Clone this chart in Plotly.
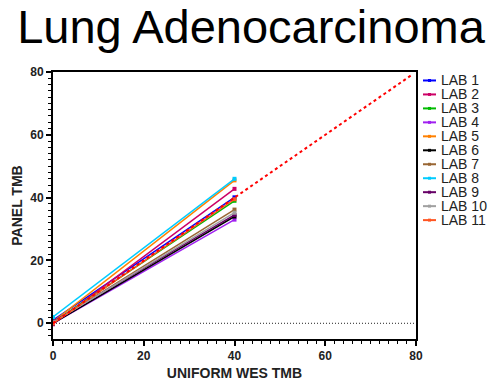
import plotly.graph_objects as go

labs = ["LAB 1", "LAB 2", "LAB 3", "LAB 4", "LAB 5", "LAB 6", "LAB 7", "LAB 8", "LAB 9", "LAB 10", "LAB 11"]
colors = ["#0000FF", "#CC0066", "#00BB00", "#A020F0", "#FF8000", "#000000", "#996633", "#00CCFF", "#660066", "#A0A0A0", "#FF5522"]
x_wes = [0, 40]
y_at0 = [1.0, -0.3, 0.3, 0.0, 0.5, 0.0, 0.2, 2.0, 0.5, 0.3, 0.0]
y_at40 = [40.1, 42.8, 39.0, 33.0, 45.5, 34.0, 36.2, 46.0, 34.5, 35.2, 39.5]
identity_x = [0, 79]
identity_y = [0, 79]

W, H = 493, 391
L, R, T, B = 53, 77, 72, 45
FONT = "Liberation Sans, Arial, sans-serif"

fig = go.Figure()
# dotted zero line
fig.add_trace(go.Scatter(x=[0, 80], y=[0, 0], mode="lines",
                         line=dict(color="#222222", width=1, dash="1px,2px"),
                         showlegend=False, hoverinfo="skip"))
for lab, c, a, b in zip(labs, colors, y_at0, y_at40):
    fig.add_trace(go.Scatter(x=x_wes, y=[a, b], mode="lines+markers", name=lab,
                             line=dict(color=c, width=1.5),
                             marker=dict(symbol="square", size=4, color=c),
                             showlegend=False))
fig.add_trace(go.Scatter(x=identity_x, y=identity_y, mode="lines",
                         line=dict(color="#FF0000", width=2, dash="3px,3px"),
                         showlegend=False))

pw = W - L - R
ph = H - T - B

def px_to_paper_x(px):
    return (px - L) / pw

def px_to_paper_y(py):
    return (H - B - py) / ph

shapes = []
annotations = []
for i, (lab, c) in enumerate(zip(labs, colors)):
    py = 80.7 + 14.33 * i
    yp = px_to_paper_y(py)
    shapes.append(dict(type="line", xref="paper", yref="paper",
                       x0=px_to_paper_x(423), x1=px_to_paper_x(436), y0=yp, y1=yp,
                       line=dict(color=c, width=2)))
    shapes.append(dict(type="rect", xref="paper", yref="paper",
                       x0=px_to_paper_x(428), x1=px_to_paper_x(431),
                       y0=px_to_paper_y(py + 1.5), y1=px_to_paper_y(py - 1.5),
                       line=dict(width=0), fillcolor=c))
    annotations.append(dict(text=lab, xref="paper", yref="paper",
                            x=px_to_paper_x(439), y=yp, xanchor="left", yanchor="middle",
                            showarrow=False, font=dict(family=FONT, size=14, color="#222222")))

axis_common = dict(showline=True, linecolor="black", linewidth=2, mirror=True,
                   ticks="outside", ticklen=5, tickwidth=1.5, tickcolor="black",
                   showgrid=False, zeroline=False,
                   tickfont=dict(family=FONT, size=12, color="#222222", weight="bold"),
                   minor=dict(dtick=2, ticks="outside", ticklen=3, tickwidth=1, tickcolor="black"))

fig.update_layout(
    width=W, height=H,
    margin=dict(l=L, r=R, t=T, b=B),
    plot_bgcolor="white", paper_bgcolor="white",
    title=dict(text="Lung Adenocarcinoma", x=251 / W, xanchor="center",
               y=1 - 27 / H, yanchor="middle", yref="container",
               font=dict(family=FONT, size=47, color="black")),
    xaxis=dict(range=[0, 80], tickvals=[0, 20, 40, 60, 80],
               title=dict(text="UNIFORM WES TMB", standoff=6,
                          font=dict(family=FONT, size=14, color="#222222", weight="bold")),
               **axis_common),
    yaxis=dict(range=[-5, 80], tickvals=[0, 20, 40, 60, 80],
               title=dict(text="PANEL TMB", standoff=4,
                          font=dict(family=FONT, size=14, color="#222222", weight="bold")),
               **axis_common),
    shapes=shapes, annotations=annotations, showlegend=False,
)

fig.write_html("out.html")
